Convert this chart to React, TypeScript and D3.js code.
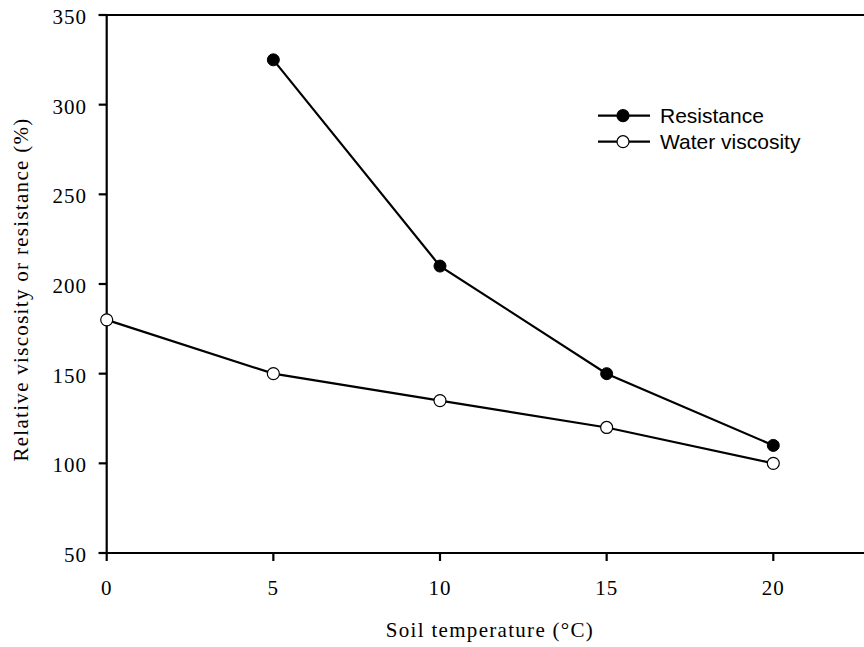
import React from "react";
import * as d3 from "d3";

const temps = [0, 5, 10, 15, 20];
const resistanceTemps = [5, 10, 15, 20];
const resistance = [325, 210, 150, 110];
const viscosity = [180, 150, 135, 120, 100];
const xTicks = [0, 5, 10, 15, 20];
const yTicks = [50, 100, 150, 200, 250, 300, 350];
const seriesNames = ["Resistance", "Water viscosity"];

export default function App() {
  const W = 864, H = 647;
  const left = 106.7, top = 15, bottom = 553, right = 864;
  const x = d3.scaleLinear().domain([0, 20]).range([left, 773.3]);
  const y = d3.scaleLinear().domain([50, 350]).range([bottom, top]);
  const line = d3.line<[number, number]>().x(d => x(d[0])).y(d => y(d[1]));
  const resPts: [number, number][] = resistanceTemps.map((t, i) => [t, resistance[i]]);
  const visPts: [number, number][] = temps.map((t, i) => [t, viscosity[i]]);
  const font = "'Liberation Serif', 'Times New Roman', serif";
  const sans = "'Liberation Sans', Arial, sans-serif";
  return (
    <svg width={W} height={H} style={{ position: "absolute", left: 0, top: 0 }}>
      <rect width={W} height={H} fill="white" />
      <line x1={left} x2={left} y1={top} y2={bottom} stroke="black" strokeWidth={2.2} />
      <line x1={left - 8} x2={right} y1={top} y2={top} stroke="black" strokeWidth={2.2} />
      <line x1={left - 8} x2={right} y1={bottom} y2={bottom} stroke="black" strokeWidth={2.2} />
      {yTicks.map(t => (
        <g key={"y" + t}>
          <line x1={left - 8} x2={left} y1={y(t)} y2={y(t)} stroke="black" strokeWidth={2.2} />
          <text x={87} y={y(t) + 9} textAnchor="end" fontFamily={font} fontSize={21} letterSpacing={1}>{t}</text>
        </g>
      ))}
      {xTicks.map(t => (
        <g key={"x" + t}>
          <line x1={x(t)} x2={x(t)} y1={bottom} y2={bottom + 8} stroke="black" strokeWidth={2.2} />
          <text x={x(t)} y={595} textAnchor="middle" fontFamily={font} fontSize={21} letterSpacing={1}>{t}</text>
        </g>
      ))}
      <text x={490} y={637} textAnchor="middle" fontFamily={font} fontSize={21} letterSpacing={1.3}>Soil temperature (°C)</text>
      <text transform={`translate(28,289.5) rotate(-90)`} textAnchor="middle" fontFamily={font} fontSize={21} letterSpacing={1.3}>Relative viscosity or resistance (%)</text>
      <path d={line(resPts) || ""} fill="none" stroke="black" strokeWidth={2.2} />
      <path d={line(visPts) || ""} fill="none" stroke="black" strokeWidth={2.2} />
      {resPts.map((p, i) => (
        <circle key={"r" + i} cx={x(p[0])} cy={y(p[1])} r={6} fill="black" stroke="black" strokeWidth={1} />
      ))}
      {visPts.map((p, i) => (
        <circle key={"v" + i} cx={x(p[0])} cy={y(p[1])} r={6} fill="white" stroke="black" strokeWidth={1.2} />
      ))}
      {seriesNames.map((n, i) => {
        const ly = 115.7 + i * 26;
        return (
          <g key={n}>
            <line x1={598} x2={650} y1={ly} y2={ly} stroke="black" strokeWidth={2.2} />
            <circle cx={623} cy={ly} r={6} fill={i === 0 ? "black" : "white"} stroke="black" strokeWidth={1.2} />
            <text x={660} y={ly} dy="0.36em" fontFamily={sans} fontSize={21}>{n}</text>
          </g>
        );
      })}
    </svg>
  );
}
